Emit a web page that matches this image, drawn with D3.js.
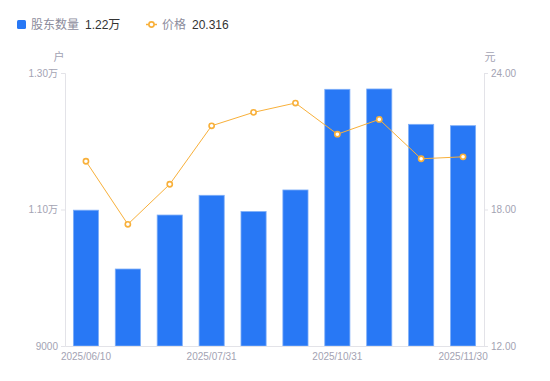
<!DOCTYPE html>
<html>
<head>
<meta charset="utf-8">
<script src="https://cdn.jsdelivr.net/npm/d3@7/dist/d3.min.js"></script>
<style>
  body { margin: 0; background: #fff; }
  text { font-family: "Liberation Sans", Arial, "Noto Sans CJK SC", sans-serif; }
</style>
</head>
<body>
<div id="chart"></div>
<script>
// dates on the category axis
var dates = ["2025/06/10", "2025/06/20", "2025/06/30", "2025/07/31", "2025/08/31",
             "2025/09/30", "2025/10/31", "2025/11/10", "2025/11/20", "2025/11/30"];
// holders (户)
var holders = [10990, 10128, 10919, 11208, 10970, 11286, 12761, 12766, 12248, 12228];
// price (元)
var prices = [20.12, 17.35, 19.11, 21.68, 22.27, 22.68, 21.31, 21.96, 20.23, 20.316];
var shownLabels = ["2025/06/10", "2025/07/31", "2025/10/31", "2025/11/30"];
var leftTicks = [9000, 11000, 13000];
var rightTicks = [12, 18, 24];

var W = 550, H = 381;
var margin = {top: 73, right: 66, bottom: 35, left: 65};
var blue = "#2878f5", orange = "#f8b03a", axisCol = "#e3e3e8", tickCol = "#a3a3b3";

var svg = d3.select("#chart").append("svg")
    .attr("width", W)
    .attr("height", H);

var x = d3.scaleBand()
    .domain(dates)
    .range([margin.left, W - margin.right])
    .paddingInner(0.4)
    .paddingOuter(0.2);

var yL = d3.scaleLinear().domain([9000, 13000]).range([H - margin.bottom, margin.top]);
var yR = d3.scaleLinear().domain([12, 24]).range([H - margin.bottom, margin.top]);

function wan(v) {
  return v >= 10000 ? (v / 10000).toFixed(2) + "万" : String(v);
}

// bars
svg.append("g")
  .selectAll("rect")
  .data(holders)
  .enter().append("rect")
    .attr("x", function(d, i) { return x(dates[i]); })
    .attr("width", x.bandwidth())
    .attr("y", function(d) { return yL(d); })
    .attr("height", function(d) { return yL(9000) - yL(d); })
    .attr("fill", blue)
    .attr("stroke", "#7eaef8")
    .attr("stroke-width", 0.8);

// axes
var leftAxis = svg.append("g")
    .attr("transform", "translate(" + margin.left + ",0)")
    .call(d3.axisLeft(yL).tickValues(leftTicks).tickFormat(wan).tickSize(4).tickPadding(3));
var rightAxis = svg.append("g")
    .attr("transform", "translate(" + (W - margin.right) + ",0)")
    .call(d3.axisRight(yR).tickValues(rightTicks).tickFormat(d3.format(".2f")).tickSize(4).tickPadding(3));
var bottomAxis = svg.append("g")
    .attr("transform", "translate(0," + (H - margin.bottom) + ")")
    .call(d3.axisBottom(x).tickValues(shownLabels).tickSize(0).tickPadding(7));

[leftAxis, rightAxis, bottomAxis].forEach(function(a) {
  a.select(".domain").attr("stroke", axisCol);
  a.selectAll(".tick line").attr("stroke", axisCol);
  a.selectAll(".tick text").attr("fill", tickCol).style("font-size", "10px");
});

// unit labels
svg.append("text").attr("x", 59).attr("y", 61).attr("text-anchor", "middle")
  .attr("fill", tickCol).style("font-size", "11px").text("户");
svg.append("text").attr("x", 490).attr("y", 61).attr("text-anchor", "middle")
  .attr("fill", tickCol).style("font-size", "11px").text("元");

// price line
var cx = function(d, i) { return x(dates[i]) + x.bandwidth() / 2; };
var line = d3.line()
    .x(cx)
    .y(function(d) { return yR(d); });

svg.append("path")
  .datum(prices)
  .attr("d", line)
  .attr("fill", "none")
  .attr("stroke", orange)
  .attr("stroke-width", 1);

svg.append("g")
  .selectAll("circle")
  .data(prices)
  .enter().append("circle")
    .attr("cx", cx)
    .attr("cy", function(d) { return yR(d); })
    .attr("r", 2.6)
    .attr("fill", "#fff")
    .attr("stroke", orange)
    .attr("stroke-width", 1.6);

// legend
var lg = svg.append("g");
lg.append("rect").attr("x", 17).attr("y", 20).attr("width", 9).attr("height", 9)
  .attr("rx", 1.5).attr("fill", blue);
lg.append("text").attr("x", 31).attr("y", 28.5).attr("fill", "#8c8c9c")
  .style("font-size", "12px").text("股东数量");
lg.append("text").attr("x", 85).attr("y", 28.5).attr("fill", "#333")
  .style("font-size", "12px").text(wan(holders[holders.length - 1]));

lg.append("line").attr("x1", 146).attr("x2", 157).attr("y1", 24.5).attr("y2", 24.5)
  .attr("stroke", orange).attr("stroke-width", 1.5);
lg.append("circle").attr("cx", 151.5).attr("cy", 24.5).attr("r", 2.6)
  .attr("fill", "#fff").attr("stroke", orange).attr("stroke-width", 1.6);
lg.append("text").attr("x", 162).attr("y", 28.5).attr("fill", "#8c8c9c")
  .style("font-size", "12px").text("价格");
lg.append("text").attr("x", 192).attr("y", 28.5).attr("fill", "#333")
  .style("font-size", "12px").text(prices[prices.length - 1]);
</script>
</body>
</html>
